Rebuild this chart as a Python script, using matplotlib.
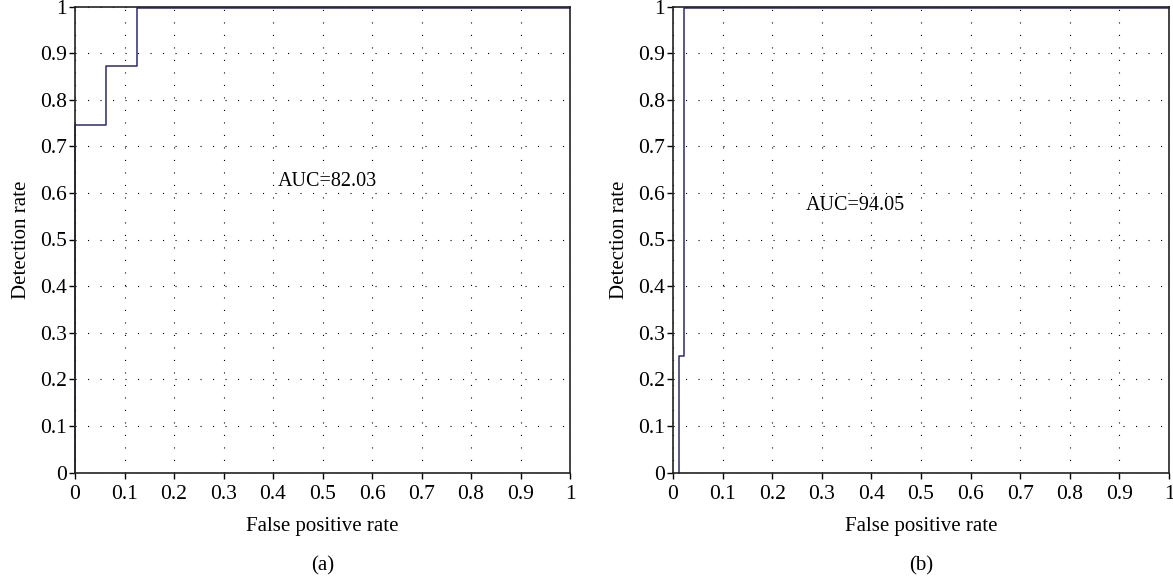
import matplotlib
matplotlib.use("Agg")
import matplotlib.pyplot as plt

# ROC step curves for the two detectors
fpr_a = [0.0, 0.0, 0.0625, 0.0625, 0.125, 0.125, 1.0]
tpr_a = [0.0, 0.745, 0.745, 0.872, 0.872, 0.997, 0.997]
auc_a = "AUC=82.03"

fpr_b = [0.013, 0.013, 0.022, 0.022, 1.0]
tpr_b = [0.0, 0.25, 0.25, 0.997, 0.997]
auc_b = "AUC=94.05"

ticks = [0, 0.1, 0.2, 0.3, 0.4, 0.5, 0.6, 0.7, 0.8, 0.9, 1]
tick_labels = ["0", "0.1", "0.2", "0.3", "0.4", "0.5", "0.6", "0.7", "0.8", "0.9", "1"]

plt.rcParams["font.family"] = ["Liberation Serif", "DejaVu Serif"]
plt.rcParams["font.size"] = 15
plt.rcParams["lines.scale_dashes"] = False

W, H = 1173, 581
fig = plt.figure(figsize=(W / 100, H / 100), dpi=100)

LINE = "#2e2a6e"


def panel(rect, fpr, tpr, auc_text, auc_xy, tag):
    ax = fig.add_axes(rect)
    ax.plot(fpr, tpr, color=LINE, lw=1.1, clip_on=False)
    ax.set_xlim(0, 1)
    ax.set_ylim(0, 1)
    ax.set_xticks(ticks)
    ax.set_xticklabels(tick_labels, fontsize=15.5)
    ax.set_yticks(ticks)
    ax.set_yticklabels(tick_labels, fontsize=15.5)
    ax.grid(True, color="black", linestyle=(0, (0.8, 8.2)), linewidth=0.8)
    ax.tick_params(direction="out", length=4, width=1, pad=2, colors="black")
    ax.tick_params(axis="x", pad=5)
    for s in ax.spines.values():
        s.set_color("#222222")
        s.set_linewidth(1.2)
    ax.text(auc_xy[0], auc_xy[1], auc_text, va="center", ha="left",
            fontsize=14.5)
    ax.set_xlabel("False positive rate", labelpad=9, fontsize=15)
    ax.set_ylabel("Detection rate", labelpad=6, fontsize=15)
    cx = rect[0] + rect[2] / 2
    fig.text(cx, 1 - 566 / H, tag, ha="center", va="center", fontsize=15)
    return ax


bottom = 1 - 472.5 / H
height = 466 / H
panel([75 / W, bottom, 495 / W, height], fpr_a, tpr_a, auc_a, (0.41, 0.625), "(a)")
panel([673 / W, bottom, 496 / W, height], fpr_b, tpr_b, auc_b, (0.267, 0.573), "(b)")

fig.savefig("out.png", dpi=100)
